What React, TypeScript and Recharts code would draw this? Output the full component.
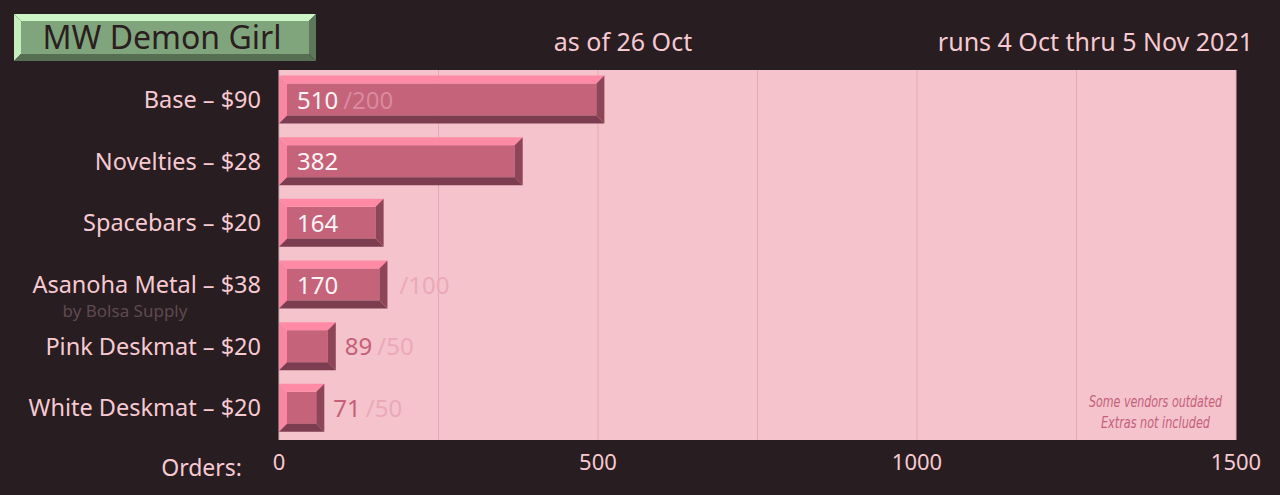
import React from 'react'
import { BarChart, Bar, XAxis, YAxis, CartesianGrid, Customized } from 'recharts'

const products = ['Base', 'Novelties', 'Spacebars', 'Asanoha Metal', 'Pink Deskmat', 'White Deskmat']
const prices = [90, 28, 20, 38, 20, 20]
const orders = [510, 382, 164, 170, 89, 71]
const minimums = [200, null, null, 100, 50, 50]
const vendors = ['', '', '', 'by Bolsa Supply', '', '']
const xTicks = [0, 250, 500, 750, 1000, 1250, 1500]

const data = products.map((name, i) => ({
  name,
  price: prices[i],
  orders: orders[i],
  cap: minimums[i],
  vendor: vendors[i],
}))

const FONT = '"Noto Sans", "Open Sans", sans-serif'
const NARROW = '"Liberation Sans Narrow", "DejaVu Sans Condensed", "Noto Sans", sans-serif'
const BG = '#281d20'
const TXT = '#f7c9d1'

// rough width of digits/slash in Noto Sans
const textW = (s: string, fs: number) =>
  s.split('').reduce((a, c) => a + (c === '/' ? 0.37 : 0.572), 0) * fs

const BevelBar = (props: any) => {
  const { x, width: w, height: h, payload } = props
  const y = props.y - 1.5
  const b = Math.min(8, w / 4, h / 4)
  const fs = 24
  const cy = y + h / 2 + 9
  const val = String(payload.orders)
  const vw = textW(val, fs)
  const inside = w > vw + 48
  const vx = inside ? x + 18 : x + w + 9
  let capX = vx + vw + 5
  const cap = payload.cap ? '/' + payload.cap : null
  let capInside = inside
  if (cap && inside && capX + textW(cap, fs) > x + w - b - 4) {
    capX = x + w + 12
    capInside = false
  }
  return (
    <g>
      <rect x={x + b} y={y + b} width={w - 2 * b} height={h - 2 * b} fill="#c4637a" />
      <polygon points={`${x},${y} ${x + w},${y} ${x + w - b},${y + b} ${x + b},${y + b}`} fill="#ff8aa6" />
      <polygon points={`${x},${y} ${x + b},${y + b} ${x + b},${y + h - b} ${x},${y + h}`} fill="#fa86a2" />
      <polygon points={`${x + w},${y} ${x + w},${y + h} ${x + w - b},${y + h - b} ${x + w - b},${y + b}`} fill="#8c4658" />
      <polygon points={`${x},${y + h} ${x + w},${y + h} ${x + w - b},${y + h - b} ${x + b},${y + h - b}`} fill="#7d3d50" />
      <text x={vx} y={cy} fontFamily={FONT} fontSize={fs} fill={inside ? '#fff4f4' : '#c4607a'}>{val}</text>
      {cap && (
        <text x={capX} y={cy} fontFamily={FONT} fontSize={fs} fill={capInside ? '#da8a9e' : '#eba9b8'}>{cap}</text>
      )}
    </g>
  )
}

const CategoryTick = (props: any) => {
  const { x, y, payload } = props
  const item = data.find(d => d.name === payload.value)
  return (
    <g>
      <text x={x} y={y + 7} textAnchor="end" fontFamily={FONT} fontSize={23.5} fill={TXT}>
        {`${payload.value} – $${item ? item.price : ''}`}
      </text>
      {item && item.vendor && (
        <text x={125} y={y + 31} textAnchor="middle" fontFamily={FONT} fontSize={17} fill="#5f4950">
          {item.vendor}
        </text>
      )}
    </g>
  )
}

const OrderTick = (props: any) => {
  const { x, y, payload } = props
  if (payload.value % 500 !== 0) return null
  return (
    <text x={x} y={y + 22} textAnchor="middle" fontFamily={FONT} fontSize={22} fill={TXT}>
      {payload.value}
    </text>
  )
}

const Overlay = () => (
  <g>
    <polygon points="14,14 316,14 309,21 21,21" fill="#ccf4c4" />
    <polygon points="14,14 21,21 21,54 14,61" fill="#c4eebb" />
    <polygon points="316,14 316,61 309,54 309,21" fill="#5c7759" />
    <polygon points="14,61 316,61 309,54 21,54" fill="#566f52" />
    <rect x={21} y={21} width={288} height={33} fill="#80a57c" />
    <text x={162} y={49} textAnchor="middle" fontFamily={FONT} fontSize={32} fill="#2a1e20">MW Demon Girl</text>
    <text x={623} y={51} textAnchor="middle" fontFamily={FONT} fontSize={25} fill={TXT}>as of 26 Oct</text>
    <text x={1253} y={51} textAnchor="end" fontFamily={FONT} fontSize={25} fill={TXT}>runs 4 Oct thru 5 Nov 2021</text>
    <text x={242} y={476} textAnchor="end" fontFamily={FONT} fontSize={23} fill={TXT}>Orders:</text>
    <text x={1089} y={407} textLength={133} lengthAdjust="spacingAndGlyphs" fontFamily={NARROW} fontStyle="italic" fontSize={16} fill="#c4607a">Some vendors outdated</text>
    <text x={1101} y={428} textLength={109} lengthAdjust="spacingAndGlyphs" fontFamily={NARROW} fontStyle="italic" fontSize={16} fill="#c4607a">Extras not included</text>
  </g>
)

export default function App() {
  return (
    <div style={{ position: 'absolute', left: 0, top: 0, width: 1280, height: 495, background: BG }}>
      <BarChart
        width={1280}
        height={495}
        data={data}
        layout="vertical"
        margin={{ top: 70, right: 44, bottom: 0, left: 0 }}
        barCategoryGap={0}
      >
        <CartesianGrid horizontal={false} fill="#f5c3cc" stroke="#e4a9b6" strokeWidth={1} />
        <XAxis
          type="number"
          dataKey="orders"
          domain={[0, 1500]}
          ticks={xTicks}
          height={55}
          axisLine={false}
          tickLine={false}
          tick={<OrderTick />}
          interval={0}
        />
        <YAxis
          type="category"
          dataKey="name"
          width={279}
          axisLine={false}
          tickLine={false}
          tickSize={0}
          tickMargin={18}
          tick={<CategoryTick />}
          interval={0}
        />
        <Bar dataKey="orders" barSize={48} shape={<BevelBar />} isAnimationActive={false} />
        <Customized component={Overlay} />
      </BarChart>
    </div>
  )
}
